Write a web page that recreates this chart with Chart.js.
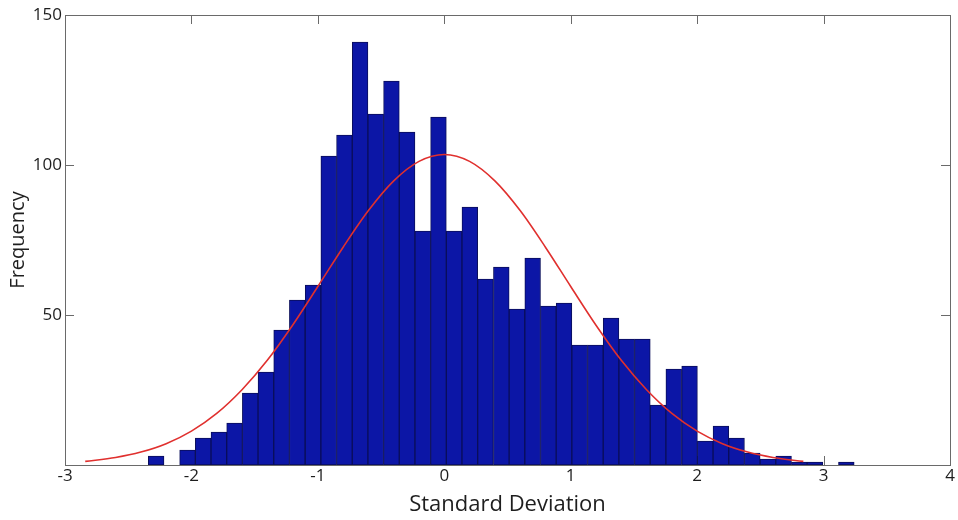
<!DOCTYPE html>
<html>
<head>
<meta charset="utf-8">
<script src="https://cdn.jsdelivr.net/npm/chart.js@4"></script>
<style>
  body { margin: 0; background: #fff; }
</style>
</head>
<body>
<canvas id="histChart" width="958" height="520"></canvas>
<script>
// bin centres (standard deviations)
const binCenters = [
  -2.279, -2.155, -2.031, -1.907, -1.783, -1.659, -1.535, -1.411, -1.287, -1.163,
  -1.038, -0.914, -0.790, -0.666, -0.542, -0.418, -0.294, -0.170, -0.046, 0.078,
  0.202, 0.326, 0.451, 0.575, 0.699, 0.823, 0.947, 1.071, 1.195, 1.319,
  1.443, 1.567, 1.691, 1.815, 1.940, 2.064, 2.188, 2.312, 2.436, 2.560,
  2.684, 2.808, 2.932, 3.056, 3.180,
];

// frequency per bin
const binCounts = [
  3, 0, 5, 9, 11, 14, 24, 31, 45, 55,
  60, 103, 110, 141, 117, 128, 111, 78, 116, 78,
  86, 62, 66, 52, 69, 53, 54, 40, 40, 49,
  42, 42, 20, 32, 33, 8, 13, 9, 4, 2,
  3, 1, 1, 0, 1,
];

// fitted normal curve
const curveX = [
  -2.84, -2.6, -2.4, -2.2, -2.0, -1.8, -1.6, -1.4, -1.2, -1.0, -0.8, -0.6, -0.4, -0.2,
  0, 0.2, 0.4, 0.6, 0.8, 1.0, 1.2, 1.4, 1.6, 1.8, 2.0, 2.2, 2.4, 2.6, 2.84,
];
const curveY = [
  1.2, 2.5, 4.3, 7.1, 11.3, 17.2, 25.1, 34.9, 46.6, 59.5, 72.6, 84.8, 94.7, 101.2,
  103.5, 101.2, 94.7, 84.8, 72.6, 59.5, 46.6, 34.9, 25.1, 17.2, 11.3, 7.1, 4.3, 2.5, 1.2,
];

const xTicks = [-3, -2, -1, 0, 1, 2, 3, 4];
const yTicks = [0, 50, 100, 150];

const barPoints = binCenters.map((x, i) => ({ x: x, y: binCounts[i] }));
const curvePoints = curveX.map((x, i) => ({ x: x, y: curveY[i] }));

// MATLAB style box with inward ticks on all four sides
const boxPlugin = {
  id: "matlabBox",
  beforeDatasetsDraw(chart) {
    const ctx = chart.ctx;
    const a = chart.chartArea;
    const xs = chart.scales.x;
    const ys = chart.scales.y;
    const len = 9;
    ctx.save();
    ctx.strokeStyle = "#6a6a6a";
    ctx.lineWidth = 1;
    ctx.beginPath();
    xTicks.forEach((v) => {
      const px = Math.round(xs.getPixelForValue(v)) + 0.5;
      ctx.moveTo(px, a.bottom);
      ctx.lineTo(px, a.bottom - len);
      ctx.moveTo(px, a.top);
      ctx.lineTo(px, a.top + len);
    });
    yTicks.forEach((v) => {
      const py = Math.round(ys.getPixelForValue(v)) + 0.5;
      ctx.moveTo(a.left, py);
      ctx.lineTo(a.left + len, py);
      ctx.moveTo(a.right, py);
      ctx.lineTo(a.right - len, py);
    });
    ctx.stroke();
    ctx.restore();
  },
  afterDraw(chart) {
    const ctx = chart.ctx;
    const a = chart.chartArea;
    ctx.save();
    ctx.strokeStyle = "#6a6a6a";
    ctx.lineWidth = 1;
    ctx.strokeRect(
      Math.round(a.left) + 0.5,
      Math.round(a.top) + 0.5,
      Math.round(a.right - a.left),
      Math.round(a.bottom - a.top)
    );
    ctx.restore();
  },
};

Chart.defaults.font.family = "'Open Sans', sans-serif";
Chart.defaults.color = "#1e1e1e";

new Chart(document.getElementById("histChart").getContext("2d"), {
  type: "bar",
  data: {
    datasets: [
      {
        type: "line",
        data: curvePoints,
        borderColor: "#e0302e",
        borderWidth: 1.6,
        pointRadius: 0,
        cubicInterpolationMode: "monotone",
        fill: false,
        order: 0,
      },
      {
        type: "bar",
        data: barPoints,
        backgroundColor: "#0c16a6",
        borderColor: "#0a0e5a",
        borderWidth: 1,
        borderSkipped: false,
        barPercentage: 1,
        categoryPercentage: 1,
        grouped: false,
        order: 1,
      },
    ],
  },
  options: {
    responsive: false,
    animation: false,
    devicePixelRatio: 1,
    layout: { padding: { left: 0, right: 8, top: 15, bottom: 0 } },
    plugins: {
      legend: { display: false },
      tooltip: { enabled: false },
    },
    scales: {
      x: {
        type: "linear",
        min: -3,
        max: 4,
        offset: false,
        afterBuildTicks: (s) => {
          s.ticks = xTicks.map((v) => ({ value: v }));
        },
        afterFit: (s) => {
          s.height = 55;
        },
        ticks: { font: { size: 17 }, padding: 1, maxRotation: 0 },
        grid: { display: false, drawTicks: false },
        border: { display: false },
        title: {
          display: true,
          text: "Standard Deviation",
          font: { size: 22 },
          padding: { top: 0, bottom: 2 },
        },
      },
      y: {
        min: 0,
        max: 150,
        afterBuildTicks: (s) => {
          s.ticks = yTicks.map((v) => ({ value: v }));
        },
        afterFit: (s) => {
          s.width = 65;
        },
        ticks: {
          font: { size: 17 },
          padding: 3,
          callback: (v) => (v === 0 ? "" : v),
        },
        grid: { display: false, drawTicks: false },
        border: { display: false },
        title: {
          display: true,
          text: "Frequency",
          font: { size: 20 },
          padding: { top: 6, bottom: 0 },
        },
      },
    },
  },
  plugins: [boxPlugin],
});
</script>
</body>
</html>
